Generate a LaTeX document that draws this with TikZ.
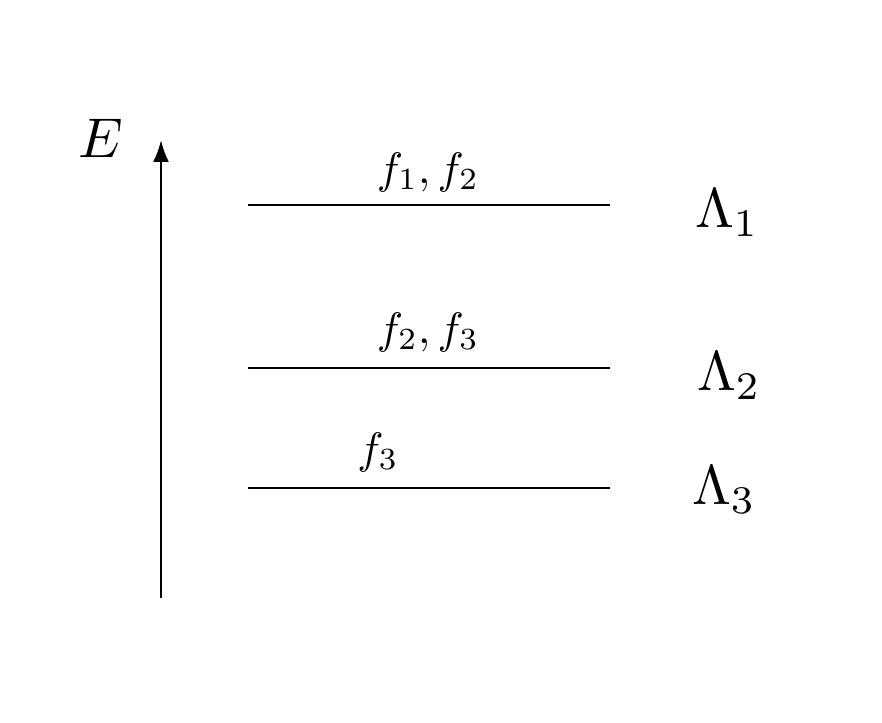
\documentclass[tikz,border=0pt]{standalone}
\usepackage{amsmath}
\usetikzlibrary{arrows.meta}
\begin{document}
\begin{tikzpicture}[x=1pt,y=-1pt,
  lvl/.style={line width=2.2pt},
  big/.style={scale=5.6},
  small/.style={scale=4.4}]
\useasboundingbox (0,0) rectangle (882,722);
\coordinate (a0) at (161,598);
\coordinate (a1) at (161,140);
\draw[line width=2.6pt,-{Latex[length=22pt,width=16pt]}] (a0) -- (a1);
\node[big] (E) at (101,138) {$E$};
\coordinate (l1a) at (248,205); \coordinate (l1b) at (610,205);
\coordinate (l2a) at (248,368); \coordinate (l2b) at (610,368);
\coordinate (l3a) at (248,488); \coordinate (l3b) at (610,488);
\draw[lvl] (l1a) -- (l1b);
\draw[lvl] (l2a) -- (l2b);
\draw[lvl] (l3a) -- (l3b);
\node[small] (t1) at (428,172) {$f_1, f_2$};
\node[small] (t2) at (428,332) {$f_2, f_3$};
\node[small] (t3) at (378,452) {$f_3$};
\node[big] (L1) at (727,213) {$\Lambda_1$};
\node[big] (L2) at (729,376) {$\Lambda_2$};
\node[big] (L3) at (724,490) {$\Lambda_3$};
\end{tikzpicture}
\end{document}
